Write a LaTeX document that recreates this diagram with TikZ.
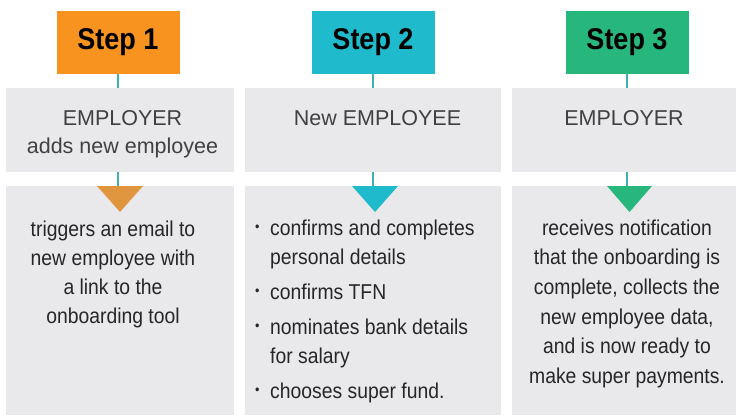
\documentclass[tikz,border=0pt]{standalone}
\usepackage{fontspec}
\setmainfont{Liberation Sans}
\newfontfamily\bodyfont{Liberation Sans}[FakeStretch=0.9]
\newfontfamily\stepfont{Liberation Sans}[FakeStretch=0.9]
\definecolor{cone}{HTML}{F7931E}
\definecolor{ctwo}{HTML}{1FBBCC}
\definecolor{cthree}{HTML}{27B67B}
\definecolor{conetri}{HTML}{E0953F}
\definecolor{panel}{HTML}{E9E9EC}
\definecolor{linec}{HTML}{3FB1B6}
\definecolor{txt}{HTML}{262626}
\definecolor{headtxt}{HTML}{404040}
\tikzset{
  stepbox/.style={rectangle, inner sep=0, minimum width=123pt, minimum height=63pt,
    font=\stepfont\bfseries\fontsize{30}{32}\selectfont, text=black},
  panelbox/.style={rectangle, fill=panel, inner sep=0},
  headtext/.style={inner sep=0, align=center, anchor=north, text=headtxt,
    font=\fontsize{21.5}{28}\selectfont},
  bodytext/.style={inner sep=0, align=center, anchor=north, text=txt,
    font=\bodyfont\fontsize{21.5}{29}\selectfont},
  conn/.style={draw=linec, line width=1.2pt}
}
\newcommand{\mybullet}{\makebox[15pt][l]{\raisebox{3.5pt}{\fontsize{14}{14}\selectfont\textbullet}}}
\begin{document}
\begin{tikzpicture}[x=1pt,y=-1pt]
\useasboundingbox (0,0) rectangle (736,416);
\fill[white] (0,0) rectangle (736,416);
% panels
\node[panelbox, minimum width=228pt, minimum height=84pt] (h1) at (120,130) {};
\node[panelbox, minimum width=256pt, minimum height=84pt] (h2) at (373,130) {};
\node[panelbox, minimum width=224pt, minimum height=84pt] (h3) at (624,130) {};
\node[panelbox, minimum width=228pt, minimum height=229pt] (b1) at (120,300.5) {};
\node[panelbox, minimum width=256pt, minimum height=229pt] (b2) at (373,300.5) {};
\node[panelbox, minimum width=224pt, minimum height=229pt] (b3) at (624,300.5) {};
% steps
\node[stepbox, fill=cone] (s1) at (118,42.5) {Step 1};
\node[stepbox, fill=ctwo] (s2) at (373,42.5) {Step 2};
\node[stepbox, fill=cthree] (s3) at (627,42.5) {Step 3};
% connectors
\draw[conn] (s1.south) -- (s1.south |- h1.north);
\draw[conn] (s2.south) -- (s2.south |- h2.north);
\draw[conn] (s3.south) -- (s3.south |- h3.north);
\draw[conn] (s1.south |- h1.south) -- (s1.south |- b1.north);
\draw[conn] (s2.south |- h2.south) -- (s2.south |- b2.north);
\draw[conn] (s3.south |- h3.south) -- (s3.south |- b3.north);
% triangles
\fill[conetri] (97,186) -- (143,186) -- (120,212) -- cycle;
\fill[ctwo] (352,186) -- (398,186) -- (375,212) -- cycle;
\fill[cthree] (607,186) -- (652,186) -- (629.5,212) -- cycle;
% header texts
\node[headtext] (t1) at (122.5,110) {EMPLOYER\\adds new employee};
\node[headtext] (t2) at (377.5,110) {New EMPLOYEE};
\node[headtext] (t3) at (624,110) {EMPLOYER};
% body texts
\node[bodytext] (d1) at (113,220.5) {triggers an email to\\new employee with\\a link to the\\onboarding tool};
\node[inner sep=0, anchor=north west, text=txt, font=\bodyfont\fontsize{21.5}{29}\selectfont] (d2) at (255,214.7)
  {\begin{tabular}{@{}l@{}l@{}}
   \mybullet & confirms and completes\\
    & personal details\\[6pt]
   \mybullet & confirms TFN\\[6pt]
   \mybullet & nominates bank details\\
    & for salary\\[6pt]
   \mybullet & chooses super fund.
   \end{tabular}};
\node[bodytext, font=\bodyfont\fontsize{21.5}{29.6}\selectfont] (d3) at (627,219.5) {receives notification\\that the onboarding is\\complete, collects the\\new employee data,\\and is now ready to\\make super payments.};
\end{tikzpicture}
\end{document}
